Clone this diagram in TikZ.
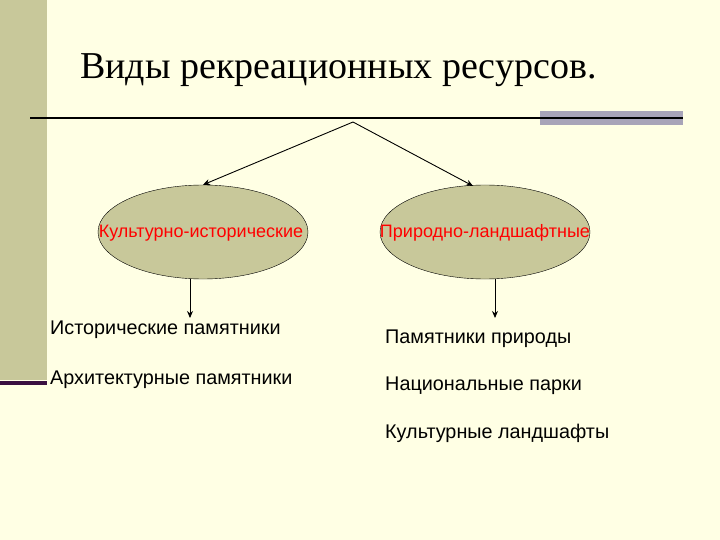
\documentclass[tikz,border=0pt]{standalone}
\usepackage{fontspec}
\setmainfont{Liberation Serif}
\setsansfont{Liberation Sans}
\usetikzlibrary{shapes.geometric,arrows.meta}
\begin{document}
\begin{tikzpicture}[x=1pt,y=-1pt,
  oval/.style={ellipse,draw=black,fill=olive0,minimum width=210pt,minimum height=94pt,inner sep=0pt},
  lab/.style={font=\sffamily\fontsize{18}{20}\selectfont,text=red},
  item/.style={font=\sffamily\fontsize{19.8}{22}\selectfont,anchor=west,inner sep=0pt},
  arr/.style={draw=black,line width=0.9pt,-{Stealth[length=7pt,width=6pt]}}]
\definecolor{bgy}{HTML}{FFFFE4}
\definecolor{olive0}{HTML}{C8C89A}
\definecolor{grayb}{HTML}{A8A4B8}
\definecolor{purp}{HTML}{3A1040}
\useasboundingbox (0,0) rectangle (720,540);
\fill[bgy] (0,0) rectangle (720,540);
\fill[olive0] (0,0) rectangle (47,380);
\fill[purp] (0,381) rectangle (47,385);
\fill[grayb] (540,111) rectangle (683,125);
\draw[line width=1.4pt] (30,118) -- (683,118);
\node[font=\fontsize{38}{42}\selectfont,anchor=west,inner sep=0pt] (title) at (80,70) {Виды рекреационных ресурсов.};
\coordinate (apex) at (353,122);
\node[oval] (l) at (203,232) {};
\node[oval] (r) at (485,232) {};
\node[lab] (lt) at (201,233) {Культурно-исторические};
\node[lab] (rt) at (485,233) {Природно-ландшафтные};
\draw[arr] (apex) -- (l.north);
\draw[arr] (apex) -- (473,186);
\coordinate (lb) at (190,279);
\coordinate (rb) at (495,279);
\node[item] (a1) at (50,330) {Исторические памятники};
\node[item] (a2) at (50,380) {Архитектурные памятники};
\node[item] (b1) at (385,339) {Памятники природы};
\node[item] (b2) at (385,386) {Национальные парки};
\node[item] (b3) at (385,433) {Культурные ландшафты};
\draw[arr] (lb) -- (190,318);
\draw[arr] (rb) -- (495,318);
\end{tikzpicture}
\end{document}
